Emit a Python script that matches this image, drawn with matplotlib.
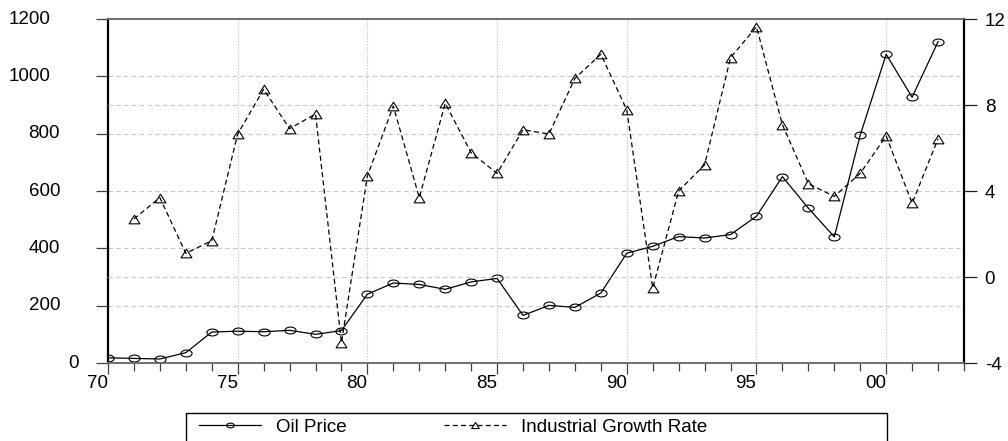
import numpy as np
import matplotlib.pyplot as plt
from matplotlib.path import Path
from matplotlib.patches import Rectangle
from matplotlib.transforms import blended_transform_factory

plt.rcParams['font.family'] = ['Liberation Sans', 'DejaVu Sans']

# Annual series
years = list(range(1970, 2003))
oil_price = [18, 16, 14, 36, 108, 111, 109, 114, 100, 113,
             240, 279, 274, 257, 283, 295, 166, 201, 194, 244,
             383, 407, 441, 436, 448, 512, 650, 540, 440, 795,
             1077, 927, 1121]
growth_years = list(range(1971, 2003))
growth_rate = [2.70, 3.69, 1.10, 1.69, 6.65, 8.73, 6.90, 7.58, -3.06,
               4.70, 7.95, 3.69, 8.08, 5.78, 4.82, 6.85, 6.65, 9.24, 10.36,
               7.77, -0.51, 4.00, 5.22, 10.20, 11.64, 7.08, 4.34, 3.75, 4.82,
               6.56, 3.43, 6.43]

left_ticks = [0, 200, 400, 600, 800, 1000, 1200]
right_ticks = [-4, 0, 4, 8, 12]
x_major = [1970, 1975, 1980, 1985, 1990, 1995, 2000]
x_labels = ['70', '75', '80', '85', '90', '95', '00']

FS = 13.5
GRID = '#c8c8c8'

# flattened circle and squat triangle markers
circ = Path.unit_circle()
ellipse = Path(circ.vertices * np.array([1.0, 0.62]), circ.codes)
tri = Path([(0, 0.8), (-1, -0.8), (1, -0.8), (0, 0.8)],
           [Path.MOVETO, Path.LINETO, Path.LINETO, Path.CLOSEPOLY])

fig = plt.figure(figsize=(10.08, 4.41), dpi=100)
ax = fig.add_axes([108 / 1008, 78 / 441, 856 / 1008, 344 / 441])
ax2 = ax.twinx()

l1, = ax.plot(years, oil_price, color='black', lw=0.9, marker=ellipse,
              ms=8, mfc='none', mec='black', mew=0.8, zorder=3)
l2, = ax2.plot(growth_years, growth_rate, color='black', lw=0.9,
               dashes=(4, 2.6), marker=tri, ms=7.8, mfc='none',
               mec='black', mew=0.8, zorder=3)

ax.set_xlim(1970, 2003)
ax.set_ylim(0, 1200)
ax2.set_ylim(-4, 12)

# x axis
ax.set_xticks(x_major)
ax.set_xticklabels(x_labels, ha='right', fontsize=FS)
ax.set_xticks(range(1971, 2004), minor=True)
ax.tick_params(axis='x', which='major', direction='out', length=8,
               width=0.9, color='#404040', pad=1)
ax.tick_params(axis='x', which='minor', direction='out', length=6,
               width=0.9, color='#404040')

# left axis: labels drawn as text so their offsets can differ
ax.set_yticks(left_ticks)
ax.tick_params(axis='y', direction='out', length=8.6, width=0.9,
               color='#404040', labelleft=False)
tr = blended_transform_factory(fig.transFigure, ax.transData)
right_edge = {0: 79, 200: 60, 400: 60, 600: 60, 800: 60, 1000: 51, 1200: 51}
for v in left_ticks:
    ax.text(right_edge[v] / 1008, v, str(v), transform=tr, ha='right',
            va='center', fontsize=FS)

# right axis
ax2.set_yticks(right_ticks)
ax2.set_yticklabels([str(v) for v in right_ticks], fontsize=FS)
ax2.tick_params(axis='y', direction='out', length=9.4, width=0.9,
                color='#202020', pad=5.5)

# grids
ax.grid(axis='x', which='major', color=GRID, lw=0.8, linestyle=(0, (1.2, 1.5)))
ax.grid(axis='y', color=GRID, lw=0.8, linestyle=(0, (4, 3)))
ax2.grid(axis='y', color=GRID, lw=0.8, linestyle=(0, (4, 3)))
for g in (ax.get_xgridlines()[0], ax.get_ygridlines()[0],
          ax.get_ygridlines()[-1]):
    g.set_visible(False)
for i in (0, 2, 4):
    ax2.get_ygridlines()[i].set_visible(False)
ax.set_axisbelow(True)
ax2.set_axisbelow(True)

# spines
for a in (ax, ax2):
    a.spines['top'].set_color('#707070')
    a.spines['bottom'].set_color('#707070')
    a.spines['top'].set_linewidth(1.2)
    a.spines['bottom'].set_linewidth(1.2)
ax.spines['left'].set_color('black')
ax.spines['left'].set_linewidth(1.6)
ax.spines['right'].set_visible(False)
ax2.spines['left'].set_visible(False)
ax2.spines['right'].set_color('black')
ax2.spines['right'].set_linewidth(1.6)

# legend
leg = fig.legend([l1, l2], ['Oil Price', 'Industrial Growth Rate'], ncol=2,
                 loc='center left', bbox_to_anchor=(199 / 1008, 1 - 427 / 441),
                 frameon=False, borderpad=0, borderaxespad=0, fontsize=FS,
                 handlelength=3.3, handletextpad=0.8, columnspacing=5.2)
for h in leg.legend_handles:
    h.set_markersize(5.5)
fig.patches.append(Rectangle((186 / 1008, -0.05), 701 / 1008, 28 / 441 + 0.05,
                             transform=fig.transFigure, fill=False,
                             edgecolor='black', lw=1.0, clip_on=False))

fig.savefig('out.png', dpi=100)
